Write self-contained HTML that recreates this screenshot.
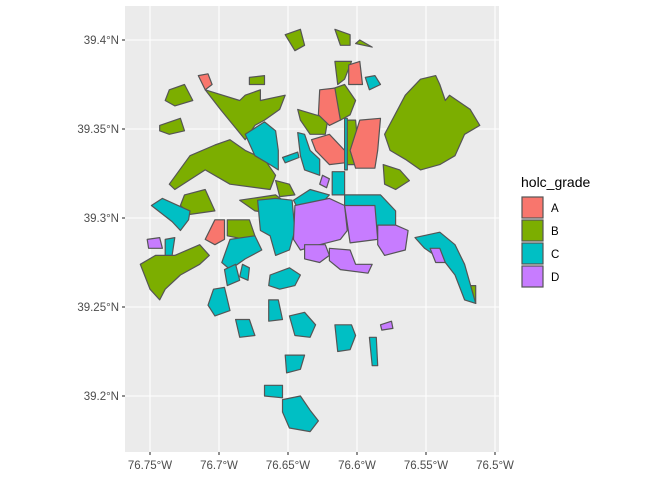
<!DOCTYPE html>
<html><head><meta charset="utf-8"><style>
body{margin:0;background:#fff;font-family:"Liberation Sans",sans-serif}
</style></head><body>
<svg id="chart" width="672" height="480" xmlns="http://www.w3.org/2000/svg">
<rect x="125" y="6" width="374" height="446" fill="#EBEBEB"/>
<g id="grid"></g><g id="polys"></g><g id="axes"></g><g id="legend"></g>
</svg>
<script>
const xTicks=[76.75,76.7,76.65,76.6,76.55,76.5];
const xTickLabels=["76.75°W","76.7°W","76.65°W","76.6°W","76.55°W","76.5°W"];
const yTicks=[39.4,39.35,39.3,39.25,39.2];
const yTickLabels=["39.4°N","39.35°N","39.3°N","39.25°N","39.2°N"];
const gradeNames=["A","B","C","D"];
const gradeColors=["#F8766D","#7CAE00","#00BFC4","#C77CFF"];
const polyGrade=["B","B","B","B","B","B","B","B","B","B","B","B","B","B","B","B","B","B","B","B",
"A","A","A","A","A","A",
"C","C","C","C","C","C","C","C","C","C","C","C","C","C","C","C","C","C","C","C","C",
"D","D","D","D","D","D","D","D","D",
"C","C","C","C"];
const polyLon=[
[76.580,76.565,76.554,76.543,76.540,76.536,76.533,76.518,76.511,76.522,76.529,76.540,76.554,76.565,76.576],
[76.710,76.685,76.681,76.670,76.670,76.652,76.656,76.667,76.674,76.681,76.699],
[76.721,76.703,76.692,76.681,76.667,76.659,76.663,76.692,76.710,76.732,76.736],
[76.725,76.710,76.703,76.721,76.728],
[76.757,76.746,76.732,76.714,76.707,76.714,76.728,76.739,76.743,76.750,76.754],
[76.652,76.641,76.638,76.645],
[76.616,76.605,76.605,76.612],
[76.601,76.589,76.598],
[76.736,76.725,76.719,76.732,76.739],
[76.678,76.667,76.667,76.678],
[76.743,76.728,76.725,76.736,76.743],
[76.643,76.630,76.621,76.623,76.634,76.641],
[76.616,76.604,76.609,76.614],
[76.620,76.609,76.601,76.605,76.612,76.616],
[76.609,76.601,76.598,76.609],
[76.581,76.569,76.562,76.572,76.580],
[76.685,76.659,76.649,76.656,76.674],
[76.659,76.649,76.645,76.656],
[76.694,76.678,76.674,76.681,76.694],
[76.525,76.514,76.514,76.522],
[76.715,76.708,76.705,76.710],
[76.606,76.598,76.596,76.606],
[76.627,76.616,76.612,76.620,76.628],
[76.633,76.620,76.609,76.609,76.620,76.630],
[76.598,76.583,76.585,76.587,76.601,76.605],
[76.710,76.703,76.696,76.696,76.703],
[76.681,76.667,76.659,76.657,76.657,76.663,76.674],
[76.643,76.638,76.634,76.627,76.627,76.638,76.641],
[76.594,76.587,76.583,76.591],
[76.618,76.609,76.609,76.618],
[76.672,76.659,76.647,76.645,76.649,76.659,76.663,76.670],
[76.749,76.741,76.721,76.722,76.728,76.734],
[76.739,76.732,76.734,76.739],
[76.692,76.674,76.669,76.681,76.692,76.698],
[76.663,76.649,76.641,76.645,76.656,76.664],
[76.704,76.696,76.692,76.703,76.708],
[76.688,76.678,76.674,76.685],
[76.664,76.657,76.654,76.664],
[76.649,76.638,76.630,76.634,76.645],
[76.616,76.604,76.601,76.605,76.614],
[76.591,76.586,76.585,76.589],
[76.652,76.638,76.641,76.651],
[76.667,76.654,76.654,76.667],
[76.654,76.641,76.634,76.628,76.634,76.649,76.654],
[76.609,76.583,76.572,76.572,76.585,76.587,76.609],
[76.558,76.540,76.529,76.522,76.514,76.522,76.529,76.536,76.551],
[76.646,76.634,76.620,76.627,76.644],
[76.645,76.620,76.609,76.607,76.612,76.627,76.641,76.646],
[76.609,76.587,76.585,76.605],
[76.585,76.572,76.563,76.565,76.580,76.585],
[76.638,76.623,76.620,76.627,76.638],
[76.620,76.605,76.601,76.589,76.592,76.612,76.620],
[76.752,76.743,76.741,76.751],
[76.625,76.620,76.622,76.627],
[76.583,76.575,76.574,76.582],
[76.547,76.540,76.536,76.543],
[76.696,76.688,76.685,76.694],
[76.683,76.678,76.679,76.685],
[76.654,76.643,76.642,76.652],
[76.609,76.607,76.607,76.609]
];
const polyLat=[
[39.347,39.369,39.378,39.380,39.375,39.366,39.369,39.361,39.352,39.347,39.335,39.330,39.327,39.333,39.338],
[39.372,39.366,39.369,39.372,39.366,39.369,39.361,39.355,39.352,39.344,39.361],
[39.335,39.341,39.344,39.338,39.333,39.324,39.316,39.319,39.327,39.316,39.319],
[39.313,39.316,39.304,39.302,39.307],
[39.274,39.279,39.279,39.285,39.279,39.274,39.268,39.260,39.254,39.260,39.268],
[39.403,39.406,39.397,39.394],
[39.406,39.403,39.397,39.397],
[39.398,39.396,39.400],
[39.372,39.375,39.366,39.363,39.366],
[39.379,39.380,39.375,39.375],
[39.352,39.356,39.349,39.347,39.349],
[39.361,39.358,39.356,39.347,39.347,39.355],
[39.388,39.388,39.378,39.375],
[39.372,39.375,39.366,39.358,39.355,39.363],
[39.355,39.355,39.330,39.330],
[39.330,39.327,39.321,39.316,39.319],
[39.310,39.313,39.307,39.302,39.304],
[39.321,39.319,39.313,39.312],
[39.299,39.299,39.290,39.288,39.290],
[39.262,39.262,39.252,39.260],
[39.380,39.381,39.375,39.372],
[39.386,39.388,39.375,39.375],
[39.372,39.373,39.355,39.352,39.358],
[39.344,39.347,39.338,39.331,39.330,39.338],
[39.355,39.356,39.338,39.328,39.328,39.338],
[39.288,39.299,39.299,39.288,39.285],
[39.347,39.354,39.349,39.338,39.327,39.330,39.335],
[39.348,39.347,39.338,39.333,39.324,39.327,39.335],
[39.379,39.380,39.375,39.372],
[39.326,39.326,39.313,39.313],
[39.310,39.311,39.310,39.293,39.282,39.279,39.290,39.293],
[39.307,39.311,39.304,39.299,39.293,39.298],
[39.288,39.289,39.279,39.279],
[39.288,39.290,39.282,39.277,39.271,39.275],
[39.268,39.272,39.268,39.262,39.260,39.262],
[39.260,39.261,39.248,39.245,39.251],
[39.243,39.243,39.234,39.233],
[39.254,39.254,39.243,39.242],
[39.245,39.247,39.240,39.233,39.234],
[39.240,39.240,39.234,39.226,39.225],
[39.233,39.233,39.217,39.217],
[39.223,39.223,39.215,39.213],
[39.206,39.206,39.199,39.200],
[39.198,39.200,39.192,39.186,39.180,39.182,39.191],
[39.313,39.313,39.304,39.290,39.288,39.304,39.307],
[39.289,39.292,39.285,39.274,39.252,39.254,39.268,39.275,39.283],
[39.310,39.316,39.313,39.307,39.307],
[39.307,39.311,39.307,39.293,39.288,39.285,39.282,39.288],
[39.307,39.307,39.288,39.286],
[39.296,39.296,39.293,39.282,39.279,39.285],
[39.285,39.285,39.279,39.275,39.277],
[39.283,39.282,39.274,39.274,39.269,39.271,39.276],
[39.288,39.289,39.283,39.283],
[39.324,39.322,39.317,39.319],
[39.240,39.242,39.238,39.237],
[39.283,39.283,39.275,39.275],
[39.271,39.274,39.265,39.262],
[39.274,39.272,39.265,39.267],
[39.334,39.337,39.334,39.331],
[39.356,39.356,39.327,39.327]
];
const NS="http://www.w3.org/2000/svg";
function xS(w){return 150+(76.75-w)/0.05*69;}
function yS(lat){return 40+(39.4-lat)/0.05*89;}
function mk(tag,attrs,parent){const e=document.createElementNS(NS,tag);for(const k in attrs)e.setAttribute(k,attrs[k]);parent.appendChild(e);return e;}
const grid=document.getElementById('grid'),polys=document.getElementById('polys'),axes=document.getElementById('axes'),legend=document.getElementById('legend');
xTicks.forEach((t,i)=>{const x=xS(t);
 const l=mk('line',{x1:x,x2:x,y1:6,y2:452,stroke:'#fff','stroke-width':1.1},grid);
 
 
 const tk=mk('line',{x1:x,x2:x,y1:452,y2:455,stroke:'#333','stroke-width':1.1},axes);
 
 
 const tx=mk('text',{x:x,y:469,'text-anchor':'middle','font-size':'11.5',fill:'#4D4D4D'},axes);tx.textContent=xTickLabels[i];
 
 });
yTicks.forEach((t,i)=>{const y=yS(t);
 const l=mk('line',{x1:125,x2:499,y1:y,y2:y,stroke:'#fff','stroke-width':1.1},grid);
 
 
 const tk=mk('line',{x1:122,x2:125,y1:y,y2:y,stroke:'#333','stroke-width':1.1},axes);
 
 
 const tx=mk('text',{x:119,y:y+4,'text-anchor':'end','font-size':'11.5',fill:'#4D4D4D'},axes);tx.textContent=yTickLabels[i];
 
 });
polyGrade.forEach((g,i)=>{
 const pts=polyLon[i].map((w,j)=>xS(w).toFixed(1)+','+yS(polyLat[i][j]).toFixed(1)).join(' ');
 const p=mk('polygon',{points:pts,fill:gradeColors[gradeNames.indexOf(g)],stroke:'#555','stroke-width':1.2,'stroke-linejoin':'round'},polys);
 
 });
const lt=mk('text',{x:521,y:187,'font-size':'14',fill:'#000'},legend);lt.textContent='holc_grade';


gradeNames.forEach((g,i)=>{const y=197+i*23;
 const r=mk('rect',{x:522,y:y,width:21,height:21,fill:gradeColors[i],stroke:'#555','stroke-width':1.2},legend);
 
 
 const t=mk('text',{x:551,y:y+15,'font-size':'11.5',fill:'#000'},legend);t.textContent=g;
 
 });
</script>
</body></html>
